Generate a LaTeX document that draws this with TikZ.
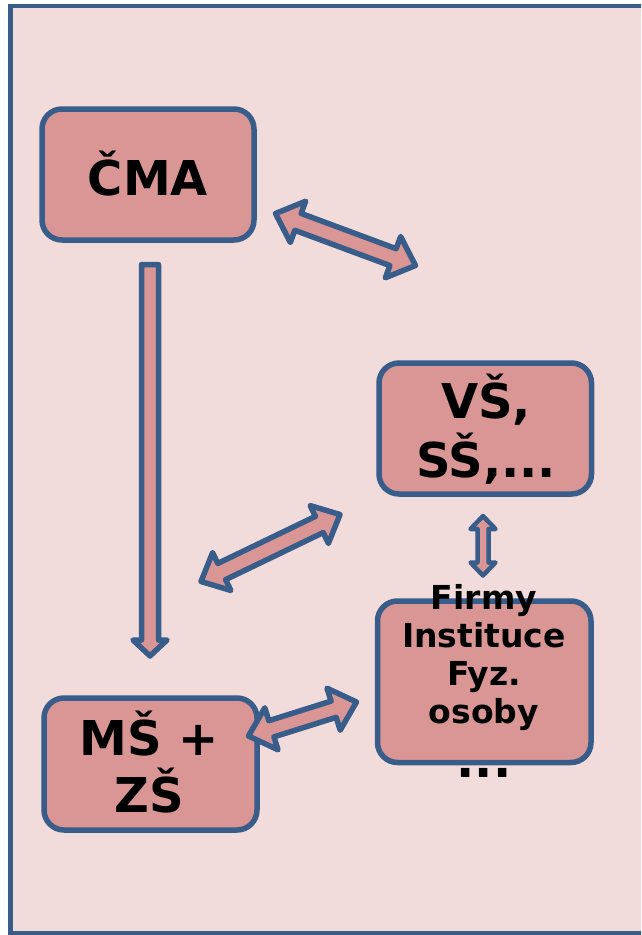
\documentclass[tikz,border=0pt]{standalone}
\usepackage{fontspec}
\setmainfont{DejaVu Sans}
\usetikzlibrary{calc}
\definecolor{bgpink}{HTML}{F2DCDB}
\definecolor{boxfill}{HTML}{D99694}
\definecolor{edgeblue}{HTML}{385D8A}

% double-headed block arrow: style, A, B, shaft half width, head half width, head length
\newcommand\dblarrow[6]{%
  \coordinate (hA) at ($(#2)!#6!(#3)$);
  \coordinate (hB) at ($(#3)!#6!(#2)$);
  \draw[#1] (#2) -- ($(hA)!#5!90:(#2)$) -- ($(hA)!#4!90:(#2)$) -- ($(hB)!#4!-90:(#3)$)
    -- ($(hB)!#5!-90:(#3)$) -- (#3) -- ($(hB)!#5!90:(#3)$) -- ($(hB)!#4!90:(#3)$)
    -- ($(hA)!#4!-90:(#2)$) -- ($(hA)!#5!-90:(#2)$) -- cycle;
}
% single-headed block arrow: style, tail, tip, shaft half width, head half width, head length
\newcommand\sglarrow[6]{%
  \coordinate (hB) at ($(#3)!#6!(#2)$);
  \draw[#1] ($(#2)!#4!90:(#3)$) -- ($(hB)!#4!90:(#3)$) -- ($(hB)!#5!90:(#3)$) -- (#3)
    -- ($(hB)!#5!-90:(#3)$) -- ($(hB)!#4!-90:(#3)$) -- ($(#2)!#4!-90:(#3)$) -- cycle;
}

\begin{document}
\begin{tikzpicture}[x=1pt,y=-1pt,
  box/.style={draw=edgeblue, fill=boxfill, line width=5.5pt, rounded corners=20pt},
  blockarrow/.style={draw=edgeblue, fill=boxfill, line width=5.5pt, line join=round},
  smallarrow/.style={draw=edgeblue, fill=boxfill, line width=4.5pt, line join=round},
  bigtext/.style={font=\bfseries\fontsize{48}{58}\selectfont, align=center, inner sep=0pt, anchor=base},
  smalltext/.style={font=\bfseries\fontsize{33}{38}\selectfont, align=center, inner sep=0pt, anchor=base}]
\useasboundingbox (0,0) rectangle (641,935);
\clip (0,0) rectangle (641,935);
\fill[white] (0,0) rectangle (641,935);
\draw[edgeblue, line width=4.5pt, fill=bgpink] (10.5,6) rectangle (680,933);

% boxes
\draw[box] (42,109) rectangle (254,240);
\draw[box] (379,363) rectangle (591.5,494);
\draw[box] (377.5,601) rectangle (591,762.5);
\draw[box] (44,698) rectangle (257,830);

% texts (base anchor = baseline of the last line)
\node[bigtext] (cma) at (148,195) {ČMA};
\node[bigtext, font=\bfseries\fontsize{48}{59}\selectfont] (vs) at (486,477) {VŠ,\\SŠ,...};
\node[bigtext, font=\bfseries\fontsize{48}{57}\selectfont] (ms) at (149,812) {MŠ +\\ZŠ};
\node[smalltext] (firmy) at (484,777) {Firmy\\Instituce\\Fyz.\\osoby\\[16pt]{\fontsize{48}{38}\selectfont ...}};

% arrow end points
\coordinate (a1) at (275.5,213.5);
\coordinate (b1) at (415.5,265.5);
\coordinate (a2) at (150,264.5);
\coordinate (b2) at (150,656);
\coordinate (a3) at (201,581.5);
\coordinate (b3) at (340,514.5);
\coordinate (a4) at (483,516);
\coordinate (b4) at (483,575.5);
\coordinate (a5) at (248.5,736);
\coordinate (b5) at (356.5,702);

\dblarrow{blockarrow}{a1}{b1}{9pt}{22pt}{24pt}
\sglarrow{blockarrow}{a2}{b2}{8.5pt}{17pt}{16pt}
\dblarrow{blockarrow}{a3}{b3}{9pt}{21pt}{23pt}
\dblarrow{smallarrow}{a4}{b4}{5.5pt}{12.5pt}{13pt}
\dblarrow{blockarrow}{a5}{b5}{8.5pt}{22pt}{24pt}
\end{tikzpicture}
\end{document}
